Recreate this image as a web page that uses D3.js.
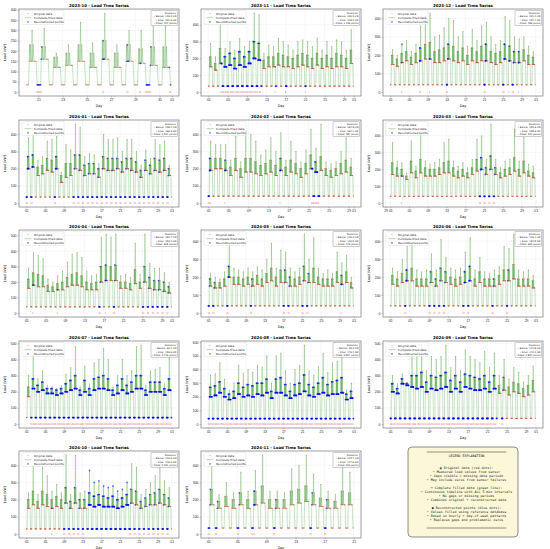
<!DOCTYPE html>
<html>
<head>
<meta charset="utf-8">
<script src="https://cdn.jsdelivr.net/npm/d3@7/dist/d3.min.js"></script>
<style>
  body { margin: 0; background: #fff; }
  svg { font-family: "DejaVu Sans", sans-serif; }
  .tick text { fill: #222; }
  .tick line { stroke: #444; stroke-width: 0.3; }
</style>
</head>
<body>
<div id="chart"></div>
<script>
// ---- data (kW): daily peak, upper band, daytime level ----
const months = ["2023-10","2023-11","2023-12","2024-01","2024-02","2024-03","2024-04",
                "2024-05","2024-06","2024-07","2024-08","2024-09","2024-10","2024-11"];
const firstDay = [20,1,1,1,1,1,1,1,1,1,1,1,1,1];
const nightLow = [35,35,40,35,40,40,40,40,40,40,40,35,30,35];
const yStep = [50,100,100,100,100,100,100,100,100,100,100,100,100,100];

const peaks_2023_10 = [300,310,190,230,340,240,385,230,300,300,320,340];
const highs_2023_10 = [230,220,170,190,230,190,250,190,230,210,220,220];
const mids_2023_10  = [150,160,120,130,150,120,160,120,150,140,130,120];
const peaks_2023_11 = [290,210,410,260,300,250,320,270,300,470,460,230,280,270,320,300,280,250,300,310,300,270,320,250,300,270,310,300,250,370];
const highs_2023_11 = [210,170,260,210,230,200,240,210,240,300,290,190,210,210,230,220,210,200,220,230,220,200,230,200,220,200,230,220,200,250];
const mids_2023_11  = [150,130,170,150,160,140,160,150,170,200,190,140,150,150,160,150,150,140,150,160,150,140,160,140,150,140,150,150,140,170];
const peaks_2023_12 = [230,200,260,280,220,260,360,420,430,300,310,350,400,390,300,330,250,340,280,360,380,300,260,280,410,390,300,290,300,250,220];
const highs_2023_12 = [200,180,210,220,190,210,240,260,270,220,230,240,260,250,220,240,200,240,220,250,260,220,210,220,260,250,220,220,230,200,190];
const mids_2023_12  = [150,140,160,170,150,160,170,180,180,160,160,170,180,170,160,170,150,170,160,170,170,160,150,160,180,170,160,160,170,150,150];
const peaks_2024_01 = [380,400,250,270,360,370,390,180,340,310,460,440,270,290,280,230,400,370,370,380,300,370,370,300,220,310,260,370,340,360,220];
const highs_2024_01 = [270,280,210,220,260,250,270,160,230,230,280,280,220,230,230,200,270,260,260,260,240,260,260,240,190,250,220,260,250,260,200];
const mids_2024_01  = [200,210,160,170,190,180,200,120,150,160,200,190,160,170,170,150,200,190,190,200,180,200,190,180,150,190,170,190,180,190,160];
const peaks_2024_02 = [360,340,340,340,250,390,240,420,400,360,280,310,380,300,410,250,360,300,240,310,430,320,460,240,230,240,300,380,260];
const highs_2024_02 = [260,260,260,250,210,260,200,260,260,240,220,230,250,220,260,210,250,230,200,230,280,240,270,200,190,200,230,250,210];
const mids_2024_02  = [190,200,200,190,160,190,150,180,180,170,160,170,180,160,190,160,180,170,150,170,200,180,190,160,150,160,170,180,160];
const peaks_2024_03 = [360,250,240,180,370,220,420,250,230,240,260,360,380,250,220,240,210,260,380,400,260,470,260,210,250,260,440,250,390,230,220];
const highs_2024_03 = [240,210,200,160,250,190,260,210,200,200,210,240,250,210,190,200,180,210,260,270,210,280,210,180,200,210,270,200,250,190,180];
const mids_2024_03  = [170,160,160,140,180,150,180,160,160,160,170,180,180,160,150,160,150,170,190,200,170,200,170,150,160,170,190,160,180,160,150];
const peaks_2024_04 = [290,390,370,350,220,200,240,270,330,380,390,360,270,240,250,490,510,490,510,240,250,230,450,250,510,320,290,290,260,200];
const highs_2024_04 = [220,260,250,240,180,170,190,200,230,250,260,240,200,190,200,300,310,300,310,200,200,190,280,200,300,230,210,210,200,170];
const mids_2024_04  = [160,180,170,170,140,140,150,150,170,180,180,170,150,150,150,200,210,210,210,160,160,150,190,160,200,160,150,150,140,130];
const peaks_2024_05 = [220,200,190,230,380,250,240,230,250,230,260,240,300,390,250,350,340,250,230,250,440,300,420,250,220,240,220,340,280,320,200];
const highs_2024_05 = [190,170,170,190,260,200,200,190,200,190,210,190,220,250,200,240,240,200,190,200,260,220,250,200,190,190,190,230,210,230,170];
const mids_2024_05  = [150,140,140,150,200,160,160,150,160,150,160,150,170,180,150,170,170,150,150,160,180,170,170,160,150,150,150,170,160,170,140];
const peaks_2024_06 = [250,230,300,370,390,240,230,240,330,240,410,310,250,240,250,340,420,240,310,230,220,240,260,370,360,440,240,230,240,210];
const highs_2024_06 = [210,190,220,240,250,190,190,190,230,190,250,230,200,190,200,230,260,190,230,190,190,190,210,240,240,270,190,190,190,180];
const mids_2024_06  = [160,150,170,180,180,150,150,150,170,150,180,170,160,150,160,170,180,150,170,150,150,150,160,180,180,190,150,150,150,140];
const peaks_2024_07 = [300,430,280,330,240,230,220,240,310,350,480,230,360,250,380,400,470,400,230,300,400,300,330,480,490,240,330,340,350,250,410];
const highs_2024_07 = [230,280,240,260,220,220,210,220,250,270,300,210,270,220,280,290,300,280,210,240,280,240,260,300,300,210,260,260,260,220,280];
const mids_2024_07  = [170,220,200,210,190,190,180,190,200,210,220,180,200,180,210,220,220,210,180,190,210,190,200,220,220,180,200,200,200,180,210];
const peaks_2024_08 = [360,370,450,330,250,300,430,370,400,380,430,420,500,300,500,520,390,300,400,430,580,390,360,420,520,380,450,460,510,250,300];
const highs_2024_08 = [270,280,310,260,220,240,300,270,290,280,300,300,330,240,330,340,290,240,290,300,360,290,270,300,340,290,310,320,340,220,240];
const mids_2024_08  = [200,210,230,200,180,190,220,200,210,200,220,210,230,190,230,230,210,190,210,220,240,210,200,220,230,210,220,220,230,180,190];
const peaks_2024_09 = [300,250,310,260,430,430,490,330,420,400,420,490,350,420,330,460,420,400,380,450,350,440,300,400,280,350,320,260,300,360];
const highs_2024_09 = [250,220,280,250,300,300,320,260,300,290,300,320,270,300,260,310,300,290,280,300,260,300,240,290,230,260,250,220,240,270];
const mids_2024_09  = [200,190,250,240,230,220,230,200,220,210,220,230,200,220,200,230,220,210,210,220,200,220,190,210,180,200,190,170,180,200];
const peaks_2024_10 = [240,400,230,390,340,250,290,240,460,230,460,240,250,370,300,310,280,270,280,250,260,300,410,390,230,260,300,340,400,310,270];
const highs_2024_10 = [200,250,190,250,230,200,220,200,270,190,270,200,200,240,220,230,220,210,220,200,210,230,260,250,190,210,230,240,260,230,210];
const mids_2024_10  = [150,170,150,170,160,150,160,150,180,150,180,150,150,170,160,170,160,160,160,150,160,170,180,170,150,160,170,170,180,170,160];
const peaks_2024_11 = [400,230,300,240,360,250,370,460,250,250,240,380,400,460,350,290,250,230,390,360];
const highs_2024_11 = [260,190,220,200,240,200,250,280,200,200,200,250,260,280,240,210,200,190,250,240];
const mids_2024_11  = [170,150,160,150,170,150,170,180,150,150,150,170,180,190,170,160,150,150,170,170];

// gaps: [firstDay, lastDay, fromFrac, toFrac, 'm' = missing (no zeros recorded)]
const gaps_2023_10 = [[20,20,0.85,0.99],[21,21,0,0.3],[26,26,0.3,0.45],[28,28,0.3,0.45],[29,29,0.35,0.45],[29,29,0.85,0.99],[30,30,0,0.3],[31,31,0.8,0.9]];
const gaps_2023_11 = [[3,3,0.6,0.99],[4,11,0,0.45],[4,11,0.55,0.99],[14,14,0.8,0.99],[16,16,0.9,0.99],[17,17,0,0.2],[21,21,0,0.15]];
const gaps_2023_12 = [[3,3,0.4,0.5],[7,7,0.2,0.45],[9,9,0.35,0.45],[13,13,0,0.35],[21,21,0,0.4],[25,25,0,0.45],[26,26,0.3,0.45],[27,27,0,0.35],[28,28,0.3,0.45]];
const gaps_2024_01 = [[1,2,0,0.45],[7,7,0,0.45],[11,31,0,0.3]];
const gaps_2024_02 = [[1,1,0,0.45],[4,4,0.3,0.45],[15,15,0.3,0.45],[21,22,0.6,0.99],[22,22,0,0.45],[23,23,0,0.2]];
const gaps_2024_03 = [[3,3,0.4,0.45],[20,20,0,0.45],[21,23,0,0.3]];
const gaps_2024_04 = [[2,2,0.35,0.45],[7,7,0.4,0.45],[16,16,0,0.3],[17,17,0.3,0.45],[19,19,0,0.3],[25,30,0,0.3]];
const gaps_2024_05 = [[1,2,0,0.3],[5,5,0,0.45],[10,10,0,0.3],[17,18,0,0.3],[21,22,0,0.3],[29,29,0.3,0.45]];
const gaps_2024_06 = [[4,4,0,0.45],[9,12,0,0.3],[16,17,0,0.45],[22,22,0,0.3],[25,25,0,0.3]];
const gaps_2024_07 = [[2,31,0,0.45],[2,31,0.55,0.99]];
const gaps_2024_08 = [[1,31,0,0.45],[1,31,0.55,0.99]];
const gaps_2024_09 = [[1,22,0,0.45],[1,22,0.55,0.99],[24,24,0,0.3]];
const gaps_2024_10 = [[6,6,0.4,0.45],[9,13,0,0.3],[14,22,0,0.99,'m'],[23,31,0,0.3]];
const gaps_2024_11 = [[1,2,0,0.3],[5,5,0,0.3],[7,7,0,0.45],[10,10,0,0.3],[15,15,0,0.3],[17,17,0,0.3]];

// x tick positions (day of month) and their labels
const ticks31 = [1,5,9,13,17,21,25,29,32], ticks30 = [1,5,9,13,17,21,25,29,31];
const labelsMonth = ["01","05","09","13","17","21","25","29","01"];
const xTicks = [[21,23,25,27,29,31,32], ticks30, ticks31, ticks31, [1,5,9,13,17,21,25,29,30],
                [0,1,5,9,13,17,21,25,29,32], ticks30, ticks31, ticks30, ticks31, ticks31, ticks30, ticks31,
                [1,5,9,13,17,21]];
const xLabels = [["21","23","25","27","29","31","01"], labelsMonth, labelsMonth, labelsMonth, labelsMonth,
                 ["29","01","05","09","13","17","21","25","29","01"], labelsMonth, labelsMonth, labelsMonth,
                 labelsMonth, labelsMonth, labelsMonth, labelsMonth, ["01","05","09","13","17","21"]];

const statBefore = [126.3,139.5,151.2,158.4,162.8,155.9,150.7,146.3,149.1,99.1,96.3,121.8,116.5,143.7];
const statAfter  = [131.9,148.2,154.7,166.3,164.1,158.6,153.2,149.5,152.8,159.6,176.4,170.2,146.9,147.6];
const statFilled = ["412","1,236","486","1,502","287","540","618","479","695","3,716","3,857","1,852","2,261","316"];

// one day drawn through these hours: night low, daytime level, upper band, peak
const dayHours = [0, 1.5, 3, 4.5, 5.7, 6.6, 7.4, 8.3, 9.3, 10.4, 11.5, 12.5, 13.8, 15.2, 16.6, 18, 19.5, 21.5, 23];
const dayRoles = ['low','low','low','low','mid','high','mid','high','mid','mid','peak','mid','high','mid','mid','mid','mid','low','low'];

const legendLines = [
  "═".repeat(40),
  "LEGEND EXPLANATION",
  "",
  "",
  "▣ Original data (red dots):",
  "• Measured load values from sensor",
  "• Gaps visible = missing data periods",
  "• May include zeros from sensor failures",
  "",
  "━ Complete filled data (green line):",
  "• Continuous timeline with ALL 5-min intervals",
  "• No gaps or missing periods",
  "• Combines original + reconstructed data",
  "",
  "● Reconstructed points (blue dots):",
  "• Values filled using reference database",
  "• Based on hourly + day-of-week patterns",
  "• Replaces gaps and problematic zeros",
  "",
  "═".repeat(40)
];

const allPeaks = [peaks_2023_10,peaks_2023_11,peaks_2023_12,peaks_2024_01,peaks_2024_02,peaks_2024_03,peaks_2024_04,
                  peaks_2024_05,peaks_2024_06,peaks_2024_07,peaks_2024_08,peaks_2024_09,peaks_2024_10,peaks_2024_11];
const allHighs = [highs_2023_10,highs_2023_11,highs_2023_12,highs_2024_01,highs_2024_02,highs_2024_03,highs_2024_04,
                  highs_2024_05,highs_2024_06,highs_2024_07,highs_2024_08,highs_2024_09,highs_2024_10,highs_2024_11];
const allMids = [mids_2023_10,mids_2023_11,mids_2023_12,mids_2024_01,mids_2024_02,mids_2024_03,mids_2024_04,
                 mids_2024_05,mids_2024_06,mids_2024_07,mids_2024_08,mids_2024_09,mids_2024_10,mids_2024_11];
const allGaps = [gaps_2023_10,gaps_2023_11,gaps_2023_12,gaps_2024_01,gaps_2024_02,gaps_2024_03,gaps_2024_04,
                 gaps_2024_05,gaps_2024_06,gaps_2024_07,gaps_2024_08,gaps_2024_09,gaps_2024_10,gaps_2024_11];

// ---- layout ----
const W = 550, H = 549;
const colX = [19, 201, 383];
const rowY = [9, 120, 230, 341, 451];
const pw = 160, ph = 87;

const svg = d3.select('#chart').append('svg')
    .attr('width', W).attr('height', H);

function inGap(gaps, t) {
    const d = Math.floor(t), f = t - d;
    return gaps.find(g => d >= g[0] && d <= g[1] && f >= g[2] && f <= g[3]);
}

months.forEach(function(m, i) {
    const left = colX[i % 3], top = rowY[Math.floor(i / 3)];
    const peaks = allPeaks[i], highs = allHighs[i], mids = allMids[i], gaps = allGaps[i];
    const start = firstDay[i], end = start + peaks.length;
    const span = end - start;

    const x = d3.scaleLinear().domain([start - 0.05 * span, end + 0.05 * span]).range([0, pw]);
    const M = d3.max(peaks);
    const y = d3.scaleLinear().domain([-0.05 * M, 1.05 * M]).range([ph, 0]);
    const yTicks = d3.range(0, 1.05 * M, yStep[i]);

    const g = svg.append('g').attr('transform', 'translate(' + left + ',' + top + ')');

    // grid
    g.append('g').selectAll('line').data(xTicks[i]).enter().append('line')
        .attr('x1', d => x(d)).attr('x2', d => x(d)).attr('y1', 0).attr('y2', ph)
        .attr('stroke', '#b0b0b0').attr('stroke-width', 0.3).attr('stroke-opacity', 0.5)
        .attr('stroke-dasharray', '1,0.6');
    g.append('g').selectAll('line').data(yTicks).enter().append('line')
        .attr('x1', 0).attr('x2', pw).attr('y1', d => y(d)).attr('y2', d => y(d))
        .attr('stroke', '#b0b0b0').attr('stroke-width', 0.3).attr('stroke-opacity', 0.5)
        .attr('stroke-dasharray', '1,0.6');

    // filled series vertices
    const pts = [];
    peaks.forEach(function(pk, k) {
        const day = start + k;
        dayHours.forEach(function(h, j) {
            const r = dayRoles[j];
            const v = r === 'low' ? nightLow[i] : r === 'peak' ? pk : r === 'high' ? highs[k] : mids[k];
            const t = day + h / 24;
            pts.push({ t: t, v: v, gap: inGap(gaps, t) });
        });
    });

    const clip = 'clip' + i;
    g.append('clipPath').attr('id', clip).append('rect').attr('width', pw).attr('height', ph);
    const plot = g.append('g').attr('clip-path', 'url(#' + clip + ')');

    // zeros during sensor failures
    gaps.filter(gp => gp[4] !== 'm').forEach(function(gp) {
        for (let d = gp[0]; d <= gp[1]; d++) {
            plot.append('line')
                .attr('x1', x(d + gp[2])).attr('x2', x(d + gp[3]))
                .attr('y1', y(0)).attr('y2', y(0))
                .attr('stroke', 'red').attr('stroke-opacity', 0.6)
                .attr('stroke-width', 0.9).attr('stroke-linecap', 'round')
                .attr('stroke-dasharray', '0,1.1');
        }
    });

    // complete filled data (green line)
    const line = d3.line().x(d => x(d.t)).y(d => y(d.v));
    plot.append('path').datum(pts).attr('d', line)
        .attr('fill', 'none').attr('stroke', '#3c9a30')
        .attr('stroke-width', 0.4).attr('stroke-opacity', 0.72);

    // original data (red)
    plot.append('g').selectAll('circle').data(pts.filter(p => !p.gap)).enter().append('circle')
        .attr('cx', d => x(d.t)).attr('cy', d => y(d.v)).attr('r', 0.55)
        .attr('fill', '#cc4422').attr('fill-opacity', 0.45);

    // reconstructed points (blue)
    plot.append('g').selectAll('circle').data(pts.filter(p => p.gap)).enter().append('circle')
        .attr('cx', d => x(d.t)).attr('cy', d => y(d.v)).attr('r', 0.85)
        .attr('fill', 'blue').attr('fill-opacity', 0.6);

    // axes
    const xAxis = d3.axisBottom(x).tickValues(xTicks[i])
        .tickFormat((d, k) => xLabels[i][k]).tickSize(1.5).tickPadding(1);
    const yAxis = d3.axisLeft(y).tickValues(yTicks).tickSize(1.5).tickPadding(1);
    const gx = g.append('g').attr('transform', 'translate(0,' + ph + ')').call(xAxis);
    const gy = g.append('g').call(yAxis);
    [gx, gy].forEach(a => {
        a.select('.domain').remove();
        a.selectAll('text').attr('font-size', 3.4);
    });

    g.append('rect').attr('width', pw).attr('height', ph)
        .attr('fill', 'none').attr('stroke', '#777').attr('stroke-width', 0.7);

    // labels
    g.append('text').attr('x', pw / 2).attr('y', -2)
        .attr('text-anchor', 'middle').attr('font-size', 3.9).attr('font-weight', 'bold')
        .text(m + ' - Load Time Series');
    g.append('text').attr('x', pw / 2).attr('y', ph + 10.5)
        .attr('text-anchor', 'middle').attr('font-size', 3.4).text('Day');
    g.append('text').attr('transform', 'translate(-13,' + (ph / 2) + ') rotate(-90)')
        .attr('text-anchor', 'middle').attr('font-size', 3.4).text('Load (kW)');

    // legend
    const lg = g.append('g').attr('transform', 'translate(3,1.5)');
    lg.append('rect').attr('width', 42).attr('height', 14)
        .attr('rx', 0.8).attr('fill', '#fff').attr('fill-opacity', 0.8)
        .attr('stroke', '#ccc').attr('stroke-width', 0.3);
    const legItems = ['Original data', 'Complete filled data', 'Reconstructed points'];
    legItems.forEach(function(t, k) {
        const yy = 3 + k * 4.2;
        if (k === 0) lg.append('circle').attr('cx', 6).attr('cy', yy).attr('r', 0.5).attr('fill', 'red').attr('fill-opacity', 0.5);
        if (k === 1) lg.append('line').attr('x1', 2.5).attr('x2', 9.5).attr('y1', yy).attr('y2', yy)
            .attr('stroke', '#3c9a30').attr('stroke-opacity', 0.72).attr('stroke-width', 0.5);
        if (k === 2) lg.append('circle').attr('cx', 6).attr('cy', yy).attr('r', 0.8).attr('fill', 'blue').attr('fill-opacity', 0.6);
        lg.append('text').attr('x', 12).attr('y', yy + 1).attr('font-size', 2.8).attr('fill', '#222').text(t);
    });

    // statistics box
    const sg = g.append('g').attr('transform', 'translate(' + (pw - 28) + ',1.5)');
    sg.append('rect').attr('width', 26.5).attr('height', 15)
        .attr('rx', 0.6).attr('fill', '#fff').attr('fill-opacity', 0.85)
        .attr('stroke', '#555').attr('stroke-width', 0.3);
    const statLines = ['Statistics:',
        '• Before: ' + statBefore[i].toFixed(1) + ' kW',
        '• After: ' + statAfter[i].toFixed(1) + ' kW',
        '• Filled: ' + statFilled[i] + ' points'];
    statLines.forEach(function(t, k) {
        sg.append('text').attr('x', 25.5).attr('y', 3.3 + k * 3.4)
            .attr('text-anchor', 'end').attr('font-size', 2.4).attr('fill', '#222').text(t);
    });
});

// ---- legend explanation panel ----
const ex = svg.append('g');
ex.append('rect').attr('x', 408).attr('y', 447).attr('width', 110).attr('height', 90)
    .attr('rx', 4).attr('fill', '#fbf7d8').attr('stroke', '#444').attr('stroke-width', 0.6);
legendLines.forEach(function(t, k) {
    ex.append('text').attr('x', 466.5).attr('y', 452.5 + k * 4.0)
        .attr('text-anchor', 'middle').attr('font-family', '"DejaVu Sans Mono", monospace')
        .attr('font-size', 3.3).attr('fill', '#222').text(t);
});
</script>
</body>
</html>
